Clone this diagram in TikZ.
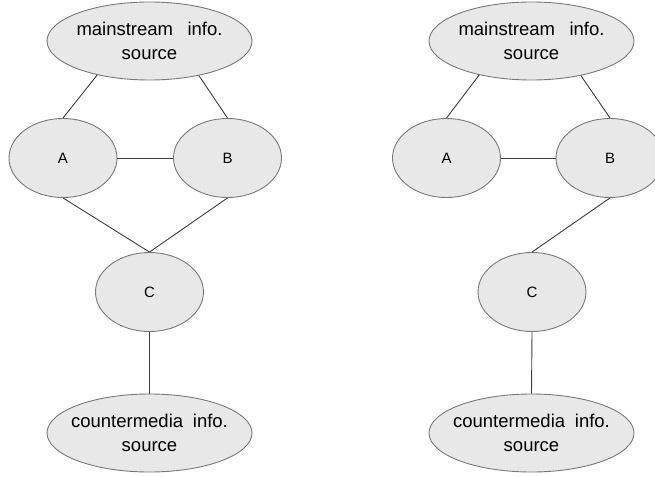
\documentclass[tikz,border=0pt]{standalone}
\usepackage{fontspec}
\setmainfont{Liberation Sans}
\usetikzlibrary{shapes.geometric}
\definecolor{ellfill}{RGB}{232,232,232}
\definecolor{elldraw}{RGB}{120,120,120}
\definecolor{linecol}{RGB}{60,60,60}
\tikzset{
  bigell/.style={ellipse, draw=elldraw, fill=ellfill, line width=0.9pt, minimum width=205pt, minimum height=78pt, inner sep=-12pt, align=center, font=\fontsize{18.5}{24}\selectfont},
  smallell/.style={ellipse, draw=elldraw, fill=ellfill, line width=0.9pt, minimum width=108pt, minimum height=79pt, inner sep=0pt, font=\fontsize{15}{18}\selectfont},
  conn/.style={draw=linecol, line width=0.9pt}
}
\begin{document}
\begin{tikzpicture}[x=1pt,y=-1pt]
\useasboundingbox (0,0) rectangle (655,476);
\clip (0,0) rectangle (655,476);
% left diagram
\node[bigell] (lm) at (149.5,41) {mainstream\hspace{0.5em} info.\\source};
\node[smallell] (la) at (63,158) {A};
\node[smallell] (lb) at (227.5,158) {B};
\node[smallell] (lc) at (149.5,292) {C};
\node[bigell] (lcm) at (149.5,433) {countermedia\hspace{0.25em} info.\\source};
\draw[conn] (lm.213) -- (la.north);
\draw[conn] (lm.325) -- (lb.north);
\draw[conn] (la.east) -- (lb.west);
\draw[conn] (la.south) -- (lc.north);
\draw[conn] (lb.south) -- (lc.north);
\draw[conn] (lc.south) -- (lcm.north);
% right diagram
\node[bigell] (rm) at (531.5,41) {mainstream\hspace{0.5em} info.\\source};
\node[smallell] (ra) at (446.5,158) {A};
\node[smallell] (rb) at (610,158) {B};
\node[smallell] (rc) at (532,292) {C};
\node[bigell] (rcm) at (531.5,433) {countermedia\hspace{0.25em} info.\\source};
\draw[conn] (rm.213) -- (ra.north);
\draw[conn] (rm.325) -- (rb.north);
\draw[conn] (ra.east) -- (rb.west);
\draw[conn] (rb.south) -- (rc.north);
\draw[conn] (rc.south) -- (rcm.north);
\end{tikzpicture}
\end{document}
